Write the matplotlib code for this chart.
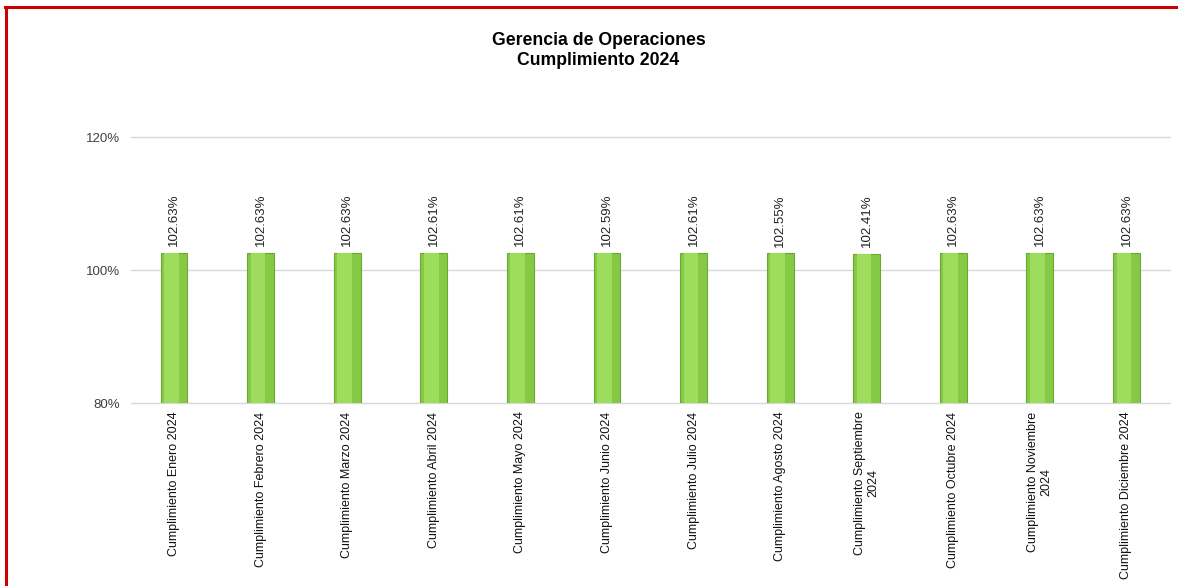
import matplotlib.pyplot as plt
from matplotlib.lines import Line2D
from matplotlib.ticker import FuncFormatter

plt.rcParams['font.family'] = ['Liberation Sans', 'DejaVu Sans']

months = ['Enero', 'Febrero', 'Marzo', 'Abril', 'Mayo', 'Junio', 'Julio',
          'Agosto', 'Septiembre\n', 'Octubre', 'Noviembre\n', 'Diciembre']
labels = ['Cumplimiento ' + m.strip() + ('\n2024' if m.endswith('\n') else ' 2024')
          for m in months]
values = [102.63, 102.63, 102.63, 102.61, 102.61, 102.59, 102.61,
          102.55, 102.41, 102.63, 102.63, 102.63]

fig = plt.figure(figsize=(11.78, 5.86), dpi=100)
ax = fig.add_axes([0.111, 0.312, 0.882, 0.454])

x = list(range(len(values)))
base = 80.
heights = [v - base for v in values]
ax.bar(x, heights, bottom=base, width=0.31, color='#86c945',
       edgecolor='#6aa834', linewidth=0.8, zorder=3)
# lighter strip to mimic the bevel
ax.bar([xi - 0.03 for xi in x], heights, bottom=base, width=0.17,
       color='#9ddc5c', linewidth=0, zorder=4)

for xi, v in zip(x, values):
    ax.text(xi, v + 1.0, '%.2f%%' % v, rotation=90, ha='center', va='bottom',
            fontsize=9.5, color='#222222')

ax.set_xlim(-0.5, len(values) - 0.5)
ax.set_ylim(80, 120)
ax.set_yticks([80, 100, 120])
ax.yaxis.set_major_formatter(FuncFormatter(lambda v, p: '%d%%' % v))
ax.grid(axis='y', color='#d9d9d9', linewidth=1, zorder=0)
for gl in ax.get_ygridlines():
    gl.set_clip_on(False)
ax.set_axisbelow(True)
for s in ax.spines.values():
    s.set_visible(False)
ax.tick_params(axis='both', length=0, labelsize=9, colors='#404040')
ax.tick_params(axis='y', pad=8, labelsize=9.5)
ax.tick_params(axis='x', pad=6, colors='#111111')
ax.set_xticks(x)
ax.set_xticklabels(labels, rotation=90, ha='center', va='top',
                   multialignment='center')

fig.text(0.508, 0.914, 'Gerencia de Operaciones\nCumplimiento 2024',
         ha='center', va='center', fontsize=12.7, fontweight='bold',
         linespacing=1.25)

# red frame (left and top edges)
fig.add_artist(Line2D([0.005, 0.005], [0, 0.988], color='#cc0000', lw=2.2,
                      transform=fig.transFigure))
fig.add_artist(Line2D([0.004, 1.0], [0.988, 0.988], color='#cc0000', lw=2.2,
                      transform=fig.transFigure))

plt.savefig('out.png', dpi=100)
